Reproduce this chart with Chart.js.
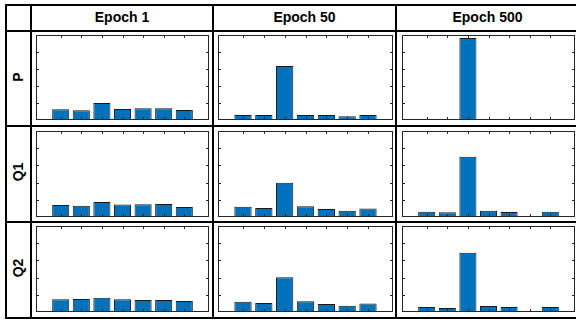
<!DOCTYPE html>
<html>
<head>
<meta charset="utf-8">
<script src="https://cdn.jsdelivr.net/npm/chart.js@4.4.1/dist/chart.umd.min.js"></script>
<style>
  body { margin: 0; background: #fff; width: 576px; height: 322px; overflow: hidden; position: relative; }
  .line { position: absolute; background: #000; }
  .head, .rowlab { position: absolute; font-family: "Liberation Sans", Arial, sans-serif; font-weight: bold; font-size: 14px; color: #000; text-align: center; }
  .rowlab { transform: rotate(-90deg); transform-origin: center center; }
  canvas { position: absolute; }
</style>
</head>
<body>
<script>
// data (7 bins per panel)
var categories = [1, 2, 3, 4, 5, 6, 7];
var epochLabels = ['Epoch 1', 'Epoch 50', 'Epoch 500'];
var rowLabels = ['P', 'Q1', 'Q2'];
var yTicks = [0.2, 0.4, 0.6, 0.8];

var P_epoch1   = [0.126, 0.114, 0.200, 0.130, 0.137, 0.137, 0.118];
var P_epoch50  = [0.059, 0.059, 0.635, 0.059, 0.059, 0.044, 0.059];
var P_epoch500 = [0.006, 0.006, 0.965, 0.006, 0.006, 0.006, 0.006];

var Q1_epoch1   = [0.140, 0.132, 0.175, 0.144, 0.147, 0.152, 0.117];
var Q1_epoch50  = [0.120, 0.105, 0.397, 0.124, 0.093, 0.074, 0.100];
var Q1_epoch500 = [0.062, 0.054, 0.700, 0.074, 0.058, 0.012, 0.062];

var Q2_epoch1   = [0.147, 0.152, 0.167, 0.147, 0.140, 0.140, 0.128];
var Q2_epoch50  = [0.120, 0.105, 0.404, 0.124, 0.093, 0.074, 0.100];
var Q2_epoch500 = [0.058, 0.047, 0.690, 0.070, 0.058, 0.010, 0.058];

var panels = [
  [P_epoch1, P_epoch50, P_epoch500],
  [Q1_epoch1, Q1_epoch50, Q1_epoch500],
  [Q2_epoch1, Q2_epoch50, Q2_epoch500]
];

// layout of the table
var hLines = [4, 30, 125, 221, 317];
var vLines = [5, 30, 212, 395, 578];
var axCols = [[36, 209], [218, 393], [402, 575]];
var axRows = [[35, 120], [131, 217], [226, 312]];

hLines.forEach(function (y) {
  var d = document.createElement('div');
  d.className = 'line';
  d.style.cssText = 'left:5px;top:' + y + 'px;width:575px;height:2px';
  document.body.appendChild(d);
});
vLines.forEach(function (x) {
  var d = document.createElement('div');
  d.className = 'line';
  d.style.cssText = 'left:' + x + 'px;top:4px;width:2px;height:315px';
  document.body.appendChild(d);
});

epochLabels.forEach(function (t, i) {
  var d = document.createElement('div');
  d.className = 'head';
  d.textContent = t;
  d.style.left = (vLines[i + 1] + 2) + 'px';
  d.style.width = (vLines[i + 2] - vLines[i + 1] - 2) + 'px';
  d.style.top = '9px';
  d.style.lineHeight = '16px';
  document.body.appendChild(d);
});

rowLabels.forEach(function (t, i) {
  var d = document.createElement('div');
  d.className = 'rowlab';
  d.textContent = t;
  var cy = (hLines[i + 1] + hLines[i + 2]) / 2 - 1;
  d.style.width = '40px';
  d.style.height = '16px';
  d.style.lineHeight = '16px';
  d.style.left = (18 - 20) + 'px';
  d.style.top = (cy - 8) + 'px';
  document.body.appendChild(d);
});

// axes box with inward ticks, drawn over the bars like MATLAB does
var boxPlugin = {
  id: 'box',
  afterDatasetsDraw: function (chart) {
    var ctx = chart.ctx, a = chart.chartArea, x = chart.scales.x, y = chart.scales.y;
    ctx.save();
    ctx.strokeStyle = '#262626';
    ctx.lineWidth = 1;
    ctx.strokeRect(a.left + 0.5, a.top + 0.5, a.right - a.left - 1, a.bottom - a.top - 1);
    ctx.beginPath();
    categories.forEach(function (c) {
      var px = Math.round(x.getPixelForValue(c)) + 0.5;
      ctx.moveTo(px, a.bottom); ctx.lineTo(px, a.bottom - 3);
      ctx.moveTo(px, a.top); ctx.lineTo(px, a.top + 3);
    });
    yTicks.forEach(function (v) {
      var py = Math.round(y.getPixelForValue(v)) + 0.5;
      ctx.moveTo(a.left, py); ctx.lineTo(a.left + 3, py);
      ctx.moveTo(a.right, py); ctx.lineTo(a.right - 3, py);
    });
    ctx.stroke();
    ctx.restore();
  }
};

panels.forEach(function (row, r) {
  row.forEach(function (vals, c) {
    var cv = document.createElement('canvas');
    var w = axCols[c][1] - axCols[c][0];
    var h = axRows[r][1] - axRows[r][0];
    cv.width = w; cv.height = h;
    cv.style.left = axCols[c][0] + 'px';
    cv.style.top = axRows[r][0] + 'px';
    cv.style.width = w + 'px';
    cv.style.height = h + 'px';
    document.body.appendChild(cv);
    new Chart(cv.getContext('2d'), {
      type: 'bar',
      data: {
        datasets: [{
          data: categories.map(function (k, i) { return { x: k, y: vals[i] }; }),
          backgroundColor: '#0072BD',
          borderColor: '#1a1a1a',
          borderWidth: 1,
          barPercentage: 0.83,
          categoryPercentage: 1
        }]
      },
      options: {
        responsive: false,
        animation: false,
        layout: { padding: 0 },
        plugins: { legend: { display: false }, tooltip: { enabled: false } },
        scales: {
          x: { type: 'linear', min: -0.2, max: 8.2, offset: false, display: false },
          y: { min: 0, max: 1, display: false }
        }
      },
      plugins: [boxPlugin]
    });
  });
});
</script>
</body>
</html>
